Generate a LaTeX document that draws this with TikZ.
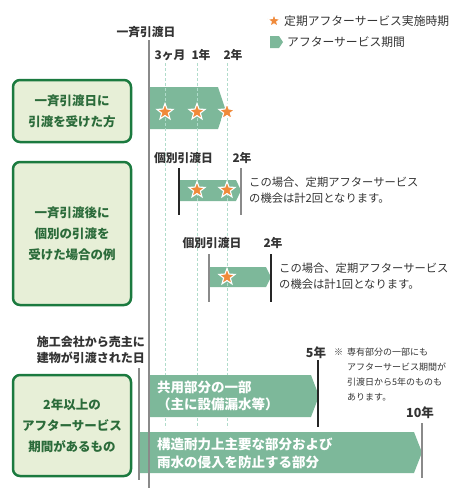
\documentclass[tikz,border=0pt]{standalone}
\usepackage{fontspec}
\setmainfont{Noto Sans CJK JP}
\usetikzlibrary{shapes.geometric}
\definecolor{bargreen}{HTML}{7DB89A}
\definecolor{boxborder}{HTML}{1B7A3F}
\definecolor{boxfill}{HTML}{E7EFD7}
\definecolor{boxtext}{HTML}{2B6B3A}
\definecolor{staror}{HTML}{F08A3A}
\definecolor{dashc}{HTML}{B0DCCB}
\definecolor{linegray}{HTML}{8A8A8A}
\definecolor{txt}{HTML}{333333}
\newcommand\asbar[6]{\fill[bargreen] (#1,#2) -- (#5,#2) -- (#3,#6) -- (#5,#4) -- (#1,#4) -- cycle;}
\begin{document}
\begin{tikzpicture}[x=1pt,y=-1pt,
  labelbox/.style={draw=boxborder, fill=boxfill, line width=2.5pt, rounded corners=7pt,
     text=boxtext, font=\bfseries\fontsize{12.5}{21}\selectfont, align=center, inner sep=0,
     minimum width=118pt},
  astar/.style={star, star points=5, star point ratio=2.4, fill=staror, draw=white,
     line width=1.1pt, minimum size=17pt, inner sep=0},
  lbl/.style={text=txt, font=\bfseries\fontsize{11.8}{16}\selectfont, inner sep=0},
  note/.style={text=txt, font=\fontsize{11.3}{16}\selectfont, align=left, inner sep=0, anchor=west},
  bartext/.style={text=white, font=\bfseries\fontsize{13.5}{17.5}\selectfont, align=left, inner sep=0, anchor=west},
  dashline/.style={dashc, dashed, dash pattern=on 3pt off 2pt, line width=0.8pt},
  mainline/.style={linegray, line width=2pt},
  darkline/.style={black!85, line width=1.2pt},
]
\useasboundingbox (0,0) rectangle (460,499);

% legend
\node[astar, minimum size=14pt] (lgstar) at (274,21) {};
\node[note, font=\fontsize{11.8}{16}\selectfont] (lgtext1) at (284,21) {定期アフターサービス実施時期};
\fill[bargreen] (270,36) -- (279,36) -- (283,42) -- (279,48) -- (270,48) -- cycle;
\node[note, font=\fontsize{11.8}{16}\selectfont] (lgtext2) at (287,42) {アフターサービス期間};

% header labels
\node[lbl] (hdr) at (146,32) {一斉引渡日};
\node[lbl] (t3m) at (170,55) {3ヶ月};
\node[lbl] (t1y) at (201,55) {1年};
\node[lbl] (t2y) at (233,55) {2年};

% left boxes
\node[labelbox, minimum height=62pt] (box1) at (72,111) {一斉引渡日に\\引渡を受けた方};
\node[labelbox, minimum height=143pt] (box2) at (72,233.5) {一斉引渡後に\\個別の引渡を\\受けた場合の例};
\node[labelbox, minimum height=101pt] (box3) at (72,425.5) {2年以上の\\アフターサービス\\期間があるもの};

% row 1 bar
\asbar{149}{87}{225}{129}{218}{108}
% row 2 bars
\asbar{179}{180}{241}{201}{236}{190.5}
\asbar{209}{267}{271}{287}{266}{277}

% dashed guide lines
\draw[dashline] (165,63) -- (165,428);
\draw[dashline] (197,63) -- (197,428);
\draw[dashline] (227,63) -- (227,428);

% row 3 bars
\asbar{149}{375}{319}{417}{311}{396}
\asbar{139}{432}{422}{473}{414}{452.5}

% stars
\node[astar] (s1) at (165,112) {};
\node[astar] (s2) at (197,112) {};
\node[astar] (s3) at (227,112) {};
\node[astar] (s4) at (197,190) {};
\node[astar] (s5) at (227,190) {};
\node[astar] (s6) at (227,277) {};

% row 2a
\node[lbl] (ind1) at (183.5,158) {個別引渡日};
\node[lbl] (y2a) at (242,158) {2年};
\draw[darkline] (179,168) -- (179,215);
\draw[mainline] (241,168) -- (241,215);
\node[note] (n2a) at (249,190) {この場合、定期アフターサービス\\の機会は計2回となります。};

% row 2b
\node[lbl] (ind2) at (212,243) {個別引渡日};
\node[lbl] (y2b) at (273,243) {2年};
\draw[mainline] (209,254) -- (209,302);
\draw[darkline] (271,254) -- (271,302);
\node[note] (n2b) at (279,276) {この場合、定期アフターサービス\\の機会は計1回となります。};

% row 3
\node[lbl, anchor=east, align=right, font=\bfseries\fontsize{12}{16}\selectfont] (sell) at (145,350) {施工会社から売主に\\建物が引渡された日};
\draw[mainline] (139,368) -- (139,480);
\node[bartext] (bt1) at (157,396) {共用部分の一部\\（主に設備漏水等）};
\node[bartext] (bt2) at (157,453.5) {構造耐力上主要な部分および\\雨水の侵入を防止する部分};
\node[lbl, font=\bfseries\fontsize{12.5}{16}\selectfont] (y5) at (316,353) {5年};
\draw[darkline] (318,360) -- (318,427);
\node[note, font=\fontsize{9}{15}\selectfont] (kome) at (334,352) {※};
\node[note, font=\fontsize{9}{15}\selectfont] (n3) at (347,374.5) {専有部分の一部にも\\アフターサービス期間が\\引渡日から5年のものも\\あります。};
\node[lbl, font=\bfseries\fontsize{12.5}{16}\selectfont] (y10) at (420,413) {10年};
\draw[mainline] (422,423) -- (422,478);

% main timeline
\draw[mainline] (149,40) -- (149,488);
\end{tikzpicture}
\end{document}
